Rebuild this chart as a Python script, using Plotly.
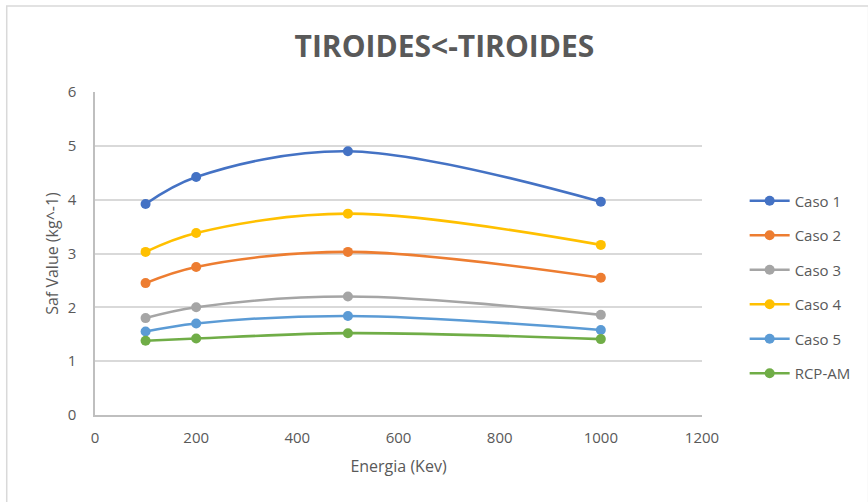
import plotly.graph_objects as go

energia = [100, 200, 500, 1000]
series_names = ["Caso 1", "Caso 2", "Caso 3", "Caso 4", "Caso 5", "RCP-AM"]
caso1 = [3.92, 4.42, 4.90, 3.96]
caso2 = [2.45, 2.75, 3.03, 2.55]
caso3 = [1.80, 2.00, 2.20, 1.86]
caso4 = [3.03, 3.38, 3.74, 3.16]
caso5 = [1.55, 1.70, 1.84, 1.58]
rcp_am = [1.38, 1.42, 1.52, 1.41]
colors = ["#4472C4", "#ED7D31", "#A5A5A5", "#FFC000", "#5B9BD5", "#70AD47"]
x_ticks = [0, 200, 400, 600, 800, 1000, 1200]
y_ticks = [0, 1, 2, 3, 4, 5, 6]

FONT = "Open Sans"
TXT = "#595959"

fig = go.Figure()
for name, vals, col in zip(series_names, [caso1, caso2, caso3, caso4, caso5, rcp_am], colors):
    fig.add_trace(go.Scatter(
        x=energia, y=vals, name=name, mode="lines+markers",
        line=dict(color=col, width=2.6, shape="spline", smoothing=1.0),
        marker=dict(color=col, size=10),
        legendgroup=name,
    ))

W, H = 868, 502
L, R, T, B = 95, 707, 92, 415
pw, ph = R - L, B - T

def px_x(p):
    return (p - L) / pw

def px_y(p):
    return (B - p) / ph

fig.update_layout(
    width=W, height=H,
    margin=dict(l=L, r=W - R, t=T, b=H - B),
    paper_bgcolor="white", plot_bgcolor="white",
    font=dict(family=FONT, color=TXT, size=15),
    title=dict(text="<b>TIROIDES&lt;-TIROIDES</b>", x=0.512, xanchor="center",
               y=1 - 46 / H, yanchor="middle",
               font=dict(family=FONT, size=30, color=TXT)),
    xaxis=dict(range=[0, 1200], tickvals=x_ticks, showgrid=False,
               showline=True, linecolor="#BFBFBF", linewidth=1.5,
               zeroline=False, ticks="", tickfont=dict(size=15, color=TXT),
               ticklabelstandoff=8,
               title=dict(text="Energia (Kev)", font=dict(size=16, color=TXT), standoff=15)),
    yaxis=dict(range=[0, 6], tickvals=y_ticks, showgrid=True, gridcolor="#D9D9D9",
               gridwidth=1.5, showline=True, linecolor="#BFBFBF", linewidth=1.5,
               zeroline=False, ticks="", tickfont=dict(size=15, color=TXT),
               ticklabelstandoff=14,
               title=dict(text="Saf Value (kg^-1)", font=dict(size=16, color=TXT), standoff=5)),
    legend=dict(x=px_x(750), xanchor="left", y=px_y(287), yanchor="middle",
                font=dict(size=15, color=TXT), tracegroupgap=12,
                bgcolor="rgba(0,0,0,0)", itemwidth=40),
    showlegend=True,
)

fig.add_shape(type="rect", xref="paper", yref="paper",
              x0=px_x(6), x1=px_x(875), y0=px_y(510), y1=px_y(6),
              line=dict(color="#D9D9D9", width=1.5), fillcolor="rgba(0,0,0,0)",
              layer="below")

fig.write_html("out.html")
